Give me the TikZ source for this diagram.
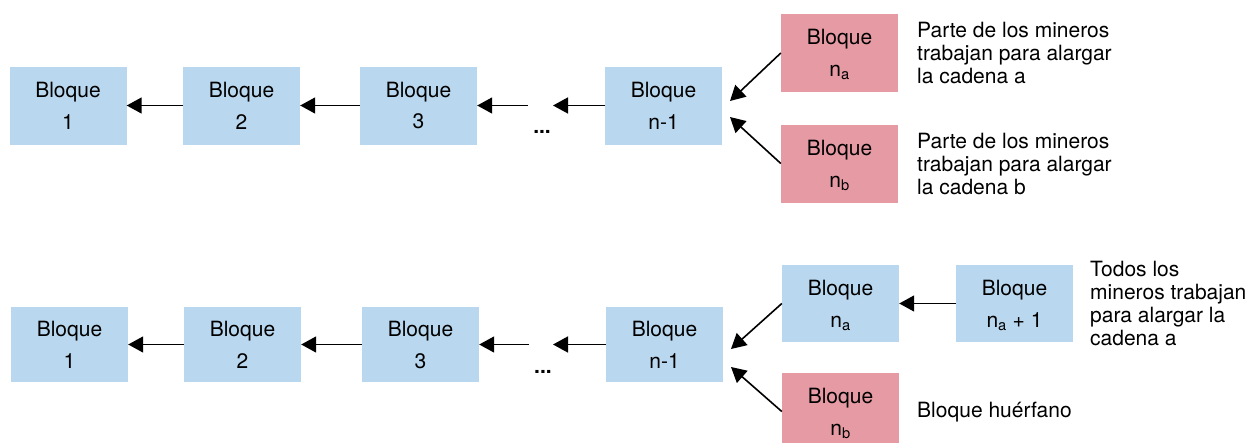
\documentclass[tikz,border=0pt]{standalone}
\usepackage{fontspec}
\setmainfont{TeX Gyre Heros}
\usetikzlibrary{arrows.meta}
\definecolor{boxblue}{RGB}{185,215,238}
\definecolor{boxpink}{RGB}{230,155,164}
\tikzset{
  blk/.style={fill=boxblue, minimum width=117pt, minimum height=78pt, inner sep=0pt, align=center, font=\fontsize{21}{32}\selectfont},
  blkr/.style={blk, fill=boxpink},
  arr/.style={line width=1.6pt, -{Triangle[length=15pt,width=16pt]}},
  note/.style={inner sep=0pt, align=left, anchor=west, font=\fontsize{21}{23}\selectfont},
  dots/.style={inner sep=0pt, anchor=base, font=\fontsize{21}{23}\selectfont\bfseries}
}
\begin{document}
\begin{tikzpicture}[x=1pt,y=-1pt]
\clip (0,0) rectangle (1250,442);
% top row
\node[blk] (b1) at (68,105.5) {Bloque\\1};
\node[blk] (b2) at (241.5,105.5) {Bloque\\2};
\node[blk] (b3) at (418.5,105.5) {Bloque\\3};
\node[blk] (bn) at (663.5,105.5) {Bloque\\n-1};
\node[blkr] (ba) at (839.5,53) {Bloque\\n\smash{\textsubscript{a}}};
\node[blkr] (bb) at (839.5,163.5) {Bloque\\n\smash{\textsubscript{b}}};
\node[dots] (d1) at (542,133) {...};
\coordinate (s1) at (528,105.5);
\coordinate (e1) at (553,105.5);
\coordinate (ta) at (730,101);
\coordinate (tb) at (730,117);
\draw[arr] (b2.west) -- (b1.east);
\draw[arr] (b3.west) -- (b2.east);
\draw[arr] (s1) -- (b3.east);
\draw[arr] (bn.west) -- (e1);
\draw[arr] (ba.west) -- (ta);
\draw[arr] (bb.west) -- (tb);
\node[note] (na) at (917,53) {Parte de los mineros\\trabajan para alargar\\la cadena a};
\node[note] (nb) at (917,163.5) {Parte de los mineros\\trabajan para alargar\\la cadena b};
% bottom row
\node[blk, minimum height=75pt] (c1) at (69.5,344.5) {Bloque\\1};
\node[blk, minimum height=75pt] (c2) at (242.5,344.5) {Bloque\\2};
\node[blk, minimum height=75pt] (c3) at (420.5,344.5) {Bloque\\3};
\node[blk, minimum height=75pt] (cn) at (664.5,344.5) {Bloque\\n-1};
\node[blk, minimum height=77pt] (ca) at (840.5,303.5) {Bloque\\n\smash{\textsubscript{a}}};
\node[blk, minimum height=77pt] (ca1) at (1014.5,303.5) {Bloque\\n\smash{\textsubscript{a}} + 1};
\node[blkr, minimum height=77pt] (cb) at (840.5,411.5) {Bloque\\n\smash{\textsubscript{b}}};
\node[dots] (d2) at (543,373) {...};
\coordinate (s2) at (529,344.5);
\coordinate (e2) at (553,344.5);
\coordinate (ua) at (731,349);
\coordinate (ub) at (731,367);
\draw[arr] (c2.west) -- (c1.east);
\draw[arr] (c3.west) -- (c2.east);
\draw[arr] (s2) -- (c3.east);
\draw[arr] (cn.west) -- (e2);
\draw[arr] (ca.west) -- (ua);
\draw[arr] (cb.west) -- (ub);
\draw[arr] (ca1.west) -- (ca.east);
\node[note] (nc) at (1090,303.5) {Todos los\\mineros trabajan\\para alargar la\\cadena a};
\node[note, anchor=base west] (nd) at (917,417) {Bloque huérfano};
\end{tikzpicture}
\end{document}
